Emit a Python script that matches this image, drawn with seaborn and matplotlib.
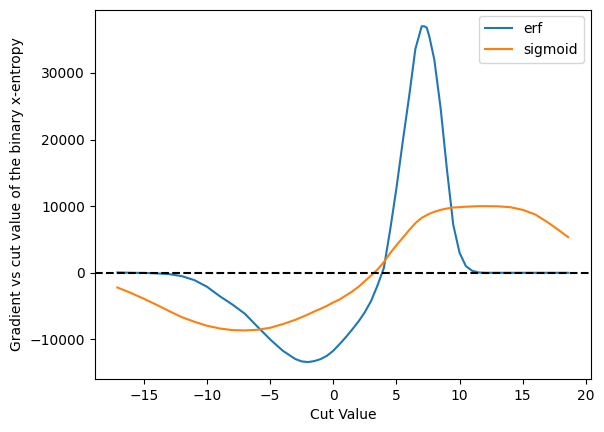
import matplotlib.pyplot as plt
import pandas as pd
import seaborn as sns

# cut values (x) shared by both curves
cut_values = [-17.1, -16, -15, -14, -13, -12, -11, -10, -9, -8, -7, -6, -5, -4, -3,
              -2.5, -2, -1.5, -1, -0.5, 0, 0.5, 1, 1.5, 2, 2.5, 3, 3.5, 4, 4.5, 5,
              5.5, 6, 6.5, 7, 7.2, 7.4, 7.6, 8, 8.5, 9, 9.5, 10, 10.5, 11, 11.5, 12,
              13, 14, 15, 16, 17, 18, 18.6]

erf_grad = [50, 0, -20, -80, -200, -500, -1100, -2100, -3500, -4750, -6150, -8100,
            -10000, -11700, -12950, -13300, -13400, -13250, -12950, -12450, -11700,
            -10700, -9650, -8500, -7300, -5900, -4200, -1900, 700, 6400, 12700,
            19700, 26400, 33600, 37000, 37000, 36800, 35500, 32000, 24700, 15500,
            7200, 3000, 1000, 300, 50, 0, 0, 0, 0, 0, 0, 0, 0]

sigmoid_grad = [-2200, -3050, -3900, -4800, -5750, -6650, -7350, -7950, -8350, -8600,
                -8650, -8550, -8250, -7700, -7050, -6650, -6250, -5800, -5400, -4950,
                -4450, -4000, -3400, -2800, -2100, -1250, -400, 500, 1600, 2950, 4150,
                5250, 6400, 7450, 8250, 8450, 8650, 8850, 9150, 9450, 9650, 9800, 9850,
                9920, 9960, 10000, 10000, 9980, 9850, 9450, 8750, 7550, 6200, 5350]

df = pd.DataFrame({"cut": cut_values, "erf": erf_grad, "sigmoid": sigmoid_grad})

fig, ax = plt.subplots(figsize=(6.04, 4.32), dpi=100)
fig.subplots_adjust(left=0.157, right=0.978, top=0.978, bottom=0.123)

sns.lineplot(data=df, x="cut", y="erf", label="erf", color="#1f77b4", ax=ax)
sns.lineplot(data=df, x="cut", y="sigmoid", label="sigmoid", color="#ff7f0e", ax=ax)
ax.axhline(0, color="k", linestyle="--")

ax.set_xlabel("Cut Value")
ax.set_ylabel("Gradient vs cut value of the binary x-entropy")
ax.legend(loc="upper right")

plt.savefig("out.png", dpi=100)
plt.close()
